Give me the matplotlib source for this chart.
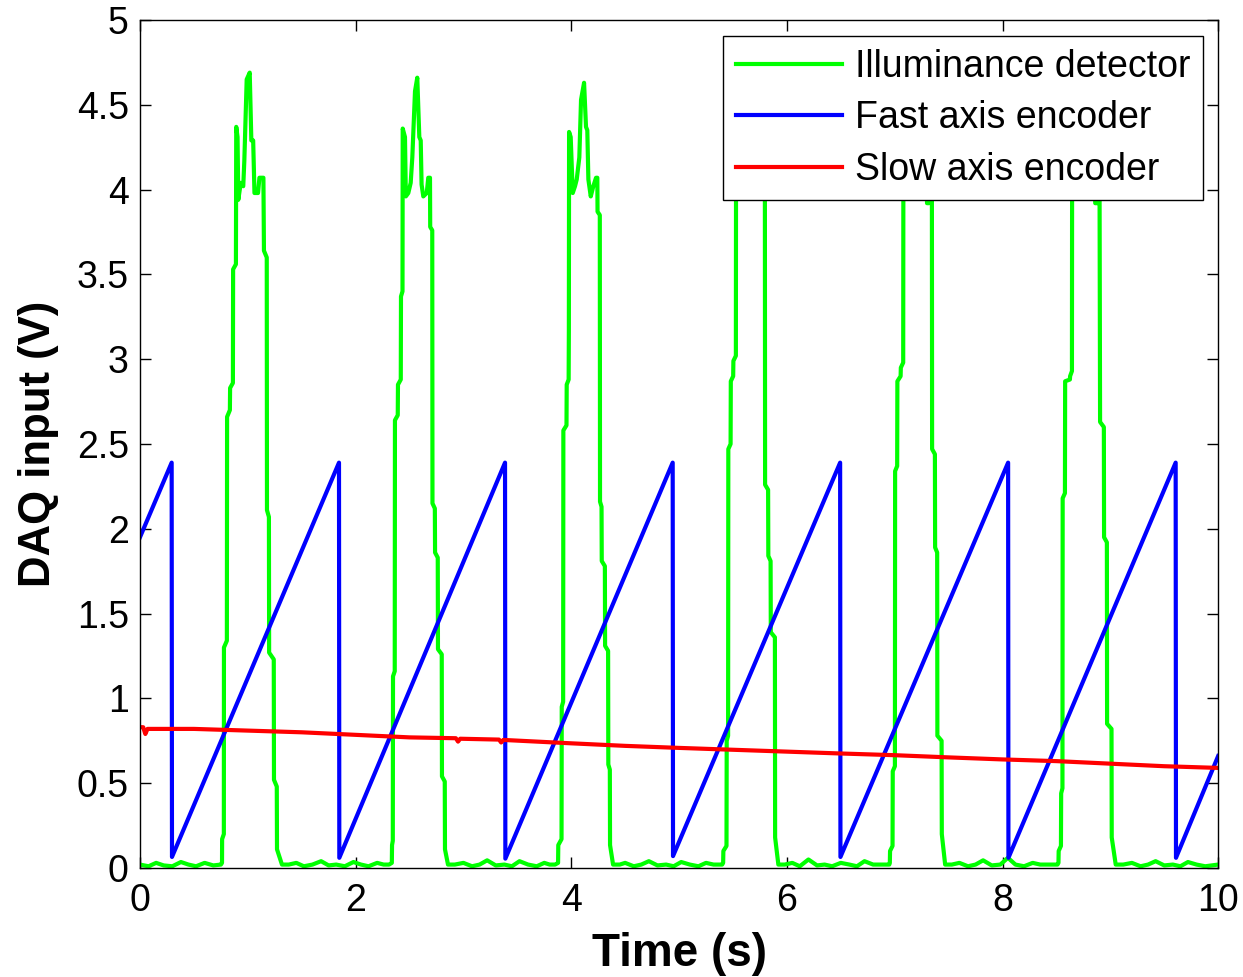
import numpy as np
import matplotlib
matplotlib.use('Agg')
import matplotlib.pyplot as plt

plt.rcParams['font.family'] = ['Liberation Sans', 'DejaVu Sans']

# ==================== data (time in s, voltage in V) ====================
# illuminance detector: one list per light pulse
p1_t = [0.751, 0.761, 0.762, 0.778, 0.779, 0.806, 0.808, 0.834, 0.836, 0.862,
        0.864, 0.890, 0.893, 0.905, 0.912, 0.935, 0.958, 0.968, 0.990, 1.018,
        1.033, 1.050, 1.062, 1.095, 1.108, 1.145, 1.150, 1.176, 1.178, 1.196,
        1.198, 1.241, 1.243, 1.269, 1.271, 1.317]
p1_v = [0.02, 0.03, 0.17, 0.20, 1.30, 1.34, 2.66, 2.70, 2.83, 2.86,
        3.53, 3.56, 4.37, 4.31, 3.94, 4.04, 4.02, 4.17, 4.65, 4.69,
        4.29, 4.29, 3.98, 3.98, 4.07, 4.07, 3.64, 3.60, 2.11, 2.07,
        1.27, 1.23, 0.52, 0.48, 0.11, 0.02]

p2_t = [2.310, 2.336, 2.338, 2.345, 2.347, 2.363, 2.365, 2.391, 2.393, 2.419,
        2.421, 2.435, 2.437, 2.458, 2.466, 2.489, 2.511, 2.526, 2.551, 2.572,
        2.591, 2.604, 2.612, 2.628, 2.660, 2.674, 2.690, 2.692, 2.711, 2.713,
        2.735, 2.737, 2.762, 2.764, 2.799, 2.801, 2.827, 2.829, 2.857]
p2_v = [0.02, 0.03, 0.135, 0.16, 1.13, 1.16, 2.64, 2.67, 2.85, 2.88,
        3.37, 3.40, 4.36, 4.31, 3.96, 3.98, 4.04, 4.19, 4.58, 4.66,
        4.31, 4.29, 4.03, 3.96, 3.98, 4.07, 4.07, 3.78, 3.76, 2.15,
        2.12, 1.86, 1.83, 1.29, 1.26, 0.54, 0.51, 0.11, 0.02]

p3_t = [3.850, 3.878, 3.880, 3.910, 3.912, 3.925, 3.927, 3.956, 3.958, 3.976,
        3.978, 3.980, 3.995, 4.014, 4.035, 4.051, 4.075, 4.091, 4.119, 4.137,
        4.149, 4.159, 4.181, 4.205, 4.230, 4.242, 4.244, 4.265, 4.267, 4.281,
        4.283, 4.312, 4.314, 4.342, 4.344, 4.358, 4.360, 4.388]
p3_v = [0.02, 0.03, 0.135, 0.17, 0.95, 0.98, 2.58, 2.61, 2.85, 2.88,
        3.17, 4.34, 4.31, 3.98, 4.02, 4.06, 4.19, 4.53, 4.63, 4.37,
        4.35, 4.06, 3.96, 4.02, 4.07, 4.07, 3.87, 3.85, 2.16, 2.13,
        1.81, 1.78, 1.31, 1.28, 0.61, 0.58, 0.135, 0.02]

p4_t = [5.400, 5.409, 5.411, 5.440, 5.442, 5.455, 5.457, 5.478, 5.480, 5.502,
        5.504, 5.527, 5.529, 5.560, 5.600, 5.640, 5.690, 5.740, 5.796, 5.798,
        5.826, 5.828, 5.849, 5.851, 5.889, 5.891, 5.921]
p4_v = [0.02, 0.03, 0.10, 0.13, 0.75, 0.78, 2.47, 2.50, 2.87, 2.90,
        2.99, 3.02, 4.40, 4.10, 4.55, 4.70, 4.20, 4.10, 4.05, 2.26,
        2.23, 1.84, 1.81, 1.39, 1.36, 0.18, 0.02]

p5_t = [6.950, 6.955, 6.957, 6.980, 6.982, 7.002, 7.004, 7.023, 7.025, 7.055,
        7.057, 7.079, 7.081, 7.120, 7.160, 7.200, 7.250, 7.296, 7.300, 7.318,
        7.322, 7.345, 7.347, 7.373, 7.375, 7.394, 7.396, 7.435, 7.437, 7.468]
p5_v = [0.02, 0.03, 0.10, 0.13, 0.57, 0.60, 2.34, 2.37, 2.87, 2.90,
        2.95, 2.98, 4.40, 4.15, 4.60, 4.70, 4.20, 4.10, 3.92, 3.92,
        4.10, 4.05, 2.47, 2.44, 1.89, 1.86, 0.78, 0.75, 0.20, 0.02]

p6_t = [8.510, 8.519, 8.521, 8.542, 8.544, 8.556, 8.558, 8.579, 8.581, 8.625,
        8.627, 8.644, 8.646, 8.690, 8.730, 8.770, 8.810, 8.856, 8.860, 8.880,
        8.884, 8.900, 8.905, 8.940, 8.942, 8.968, 8.970, 9.011, 9.013, 9.050]
p6_v = [0.02, 0.03, 0.10, 0.13, 0.44, 0.47, 2.18, 2.21, 2.87, 2.88,
        2.90, 2.93, 4.40, 4.15, 4.60, 4.70, 4.20, 4.10, 3.92, 3.92,
        4.10, 4.05, 2.63, 2.60, 1.95, 1.92, 0.85, 0.82, 0.18, 0.02]

# detector floor between pulses
base_t = [0.00, 0.08, 0.15, 0.22, 0.30, 0.38, 0.45, 0.52, 0.60, 0.68,
          1.38, 1.45, 1.52, 1.60, 1.68, 1.75, 1.82, 1.90, 1.98, 2.05, 2.12, 2.20, 2.26,
          2.92, 3.00, 3.08, 3.15, 3.22, 3.30, 3.38, 3.45, 3.52, 3.60, 3.68, 3.75, 3.80,
          4.45, 4.50, 4.58, 4.65, 4.72, 4.80, 4.88, 4.95, 5.02, 5.10, 5.18, 5.25, 5.32,
          5.98, 6.05, 6.12, 6.20, 6.28, 6.35, 6.42, 6.50, 6.58, 6.65, 6.72, 6.80, 6.88,
          7.53, 7.60, 7.68, 7.75, 7.82, 7.90, 7.98, 8.05, 8.12, 8.20, 8.28, 8.35, 8.42,
          9.12, 9.20, 9.28, 9.35, 9.42, 9.50, 9.58, 9.65, 9.72, 9.80, 9.88, 10.00]
base_v = [0.02, 0.01, 0.03, 0.015, 0.01, 0.035, 0.02, 0.01, 0.03, 0.015,
          0.02, 0.03, 0.01, 0.02, 0.04, 0.015, 0.02, 0.01, 0.035, 0.02, 0.01, 0.03, 0.02,
          0.02, 0.03, 0.01, 0.02, 0.045, 0.015, 0.02, 0.01, 0.04, 0.02, 0.01, 0.03, 0.02,
          0.02, 0.03, 0.01, 0.02, 0.04, 0.015, 0.02, 0.01, 0.035, 0.02, 0.01, 0.03, 0.02,
          0.02, 0.03, 0.01, 0.05, 0.015, 0.02, 0.01, 0.03, 0.02, 0.01, 0.04, 0.02, 0.02,
          0.02, 0.03, 0.01, 0.02, 0.045, 0.015, 0.02, 0.06, 0.02, 0.01, 0.03, 0.02, 0.02,
          0.02, 0.03, 0.01, 0.02, 0.04, 0.015, 0.02, 0.01, 0.035, 0.02, 0.01, 0.02]

# fast axis encoder: sawtooth flyback times and levels
fast_drop_t = [0.294, 1.846, 3.386, 4.941, 6.494, 8.052, 9.606]
fast_peak_v = [2.39, 2.39, 2.39, 2.39, 2.39, 2.39, 2.39]
fast_trough_v = [0.065, 0.060, 0.055, 0.070, 0.065, 0.060, 0.060]
fast_start_v = 1.95
fast_end_v = 0.66

# slow axis encoder
slow_t = [0.00, 0.03, 0.05, 0.07, 0.50, 1.00, 1.50, 2.00, 2.50, 2.93, 2.95, 2.97,
          3.33, 3.35, 3.37, 4.00, 4.50, 5.00, 5.50, 6.00, 6.50, 7.00, 7.50,
          8.00, 8.50, 9.00, 9.50, 10.00]
slow_v = [0.83, 0.83, 0.79, 0.82, 0.82, 0.81, 0.80, 0.785, 0.77, 0.765, 0.745, 0.762,
          0.757, 0.74, 0.755, 0.735, 0.72, 0.708, 0.697, 0.686, 0.675, 0.665, 0.652,
          0.64, 0.63, 0.615, 0.60, 0.59]

ytick_vals = [0, 0.5, 1, 1.5, 2, 2.5, 3, 3.5, 4, 4.5, 5]
ytick_labels = ['0', '0.5', '1', '1.5', '2', '2.5', '3', '3.5', '4', '4.5', '5']
xtick_vals = [0, 2, 4, 6, 8, 10]

# ==================== build traces ====================
green_t = np.concatenate([base_t, p1_t, p2_t, p3_t, p4_t, p5_t, p6_t])
green_v = np.concatenate([base_v, p1_v, p2_v, p3_v, p4_v, p5_v, p6_v])
order = np.argsort(green_t, kind='stable')
green_t, green_v = green_t[order], green_v[order]

blue_t = [0.0]
blue_v = [fast_start_v]
for t, pk, tr in zip(fast_drop_t, fast_peak_v, fast_trough_v):
    blue_t += [t, t + 0.003]
    blue_v += [pk, tr]
blue_t.append(10.0)
blue_v.append(fast_end_v)

# ==================== plot ====================
fig = plt.figure(figsize=(12.43, 9.77), dpi=100)
ax = fig.add_axes([0.1126, 0.1116, 0.8674, 0.8679])

lw = 3.0
ax.plot(green_t, green_v, color=(0, 1, 0), lw=lw, label='Illuminance detector')
ax.plot(blue_t, blue_v, color=(0, 0, 1), lw=lw, label='Fast axis encoder')
ax.plot(slow_t, slow_v, color=(1, 0, 0), lw=lw, label='Slow axis encoder')

ax.set_xlim(0, 10)
ax.set_ylim(0, 5)
ax.set_xticks(xtick_vals)
ax.set_xticklabels([str(v) for v in xtick_vals])
ax.set_yticks(ytick_vals)
ax.set_yticklabels(ytick_labels)
ax.tick_params(direction='in', length=8, width=1, top=True, right=True,
               labelsize=27, colors='black')
ax.tick_params(axis='x', pad=11)
ax.tick_params(axis='y', pad=8)
for s in ax.spines.values():
    s.set_linewidth(1.0)

ax.set_xlabel('Time (s)', fontsize=33, fontweight='bold', labelpad=9)
ax.set_ylabel('DAQ input (V)', fontsize=31.5, fontweight='bold', labelpad=13)

leg = ax.legend(loc='upper right', bbox_to_anchor=(0.986, 0.981), borderaxespad=0,
                fontsize=27, fancybox=False, edgecolor='black', framealpha=1,
                handlelength=2.83, handletextpad=0.35, labelspacing=0.41, borderpad=0.34)
leg.get_frame().set_linewidth(1.0)

fig.savefig('out.png', dpi=100)
